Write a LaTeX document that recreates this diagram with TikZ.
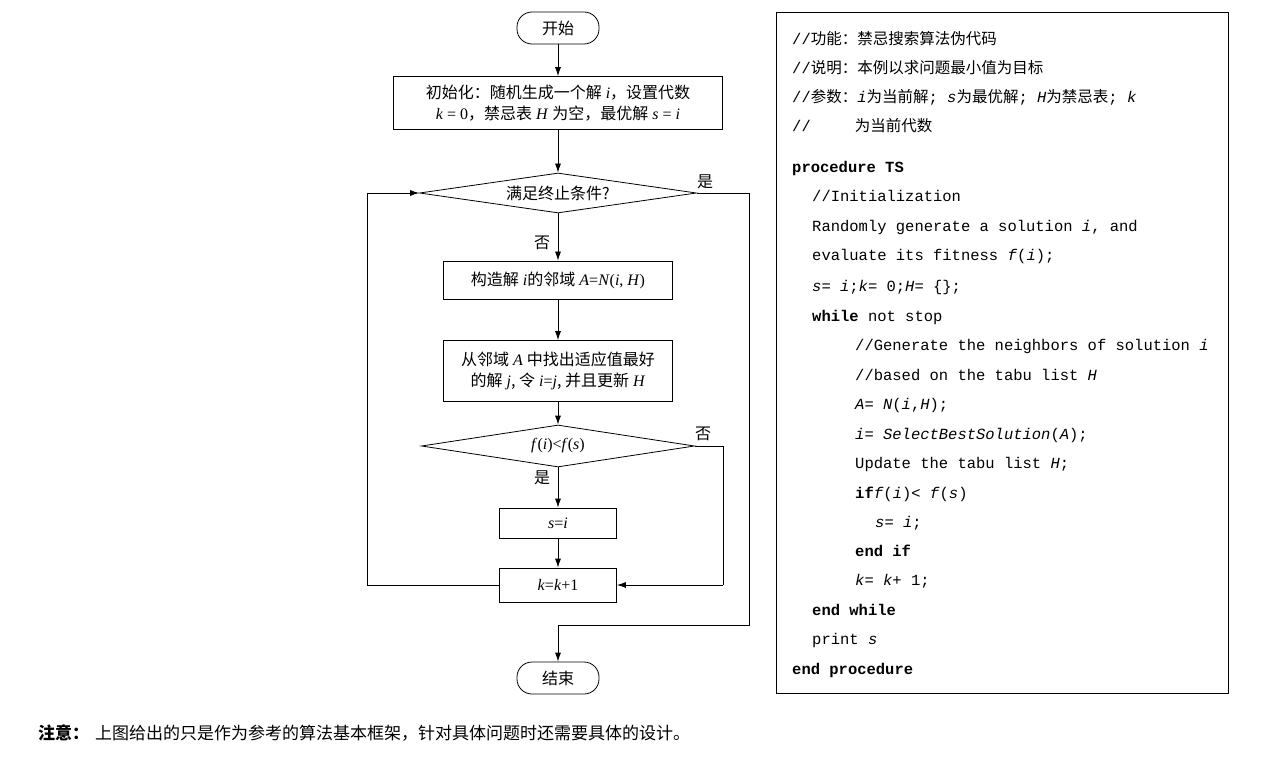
\documentclass[tikz,border=0pt]{standalone}
\usepackage{fontspec}
\setmainfont{Liberation Serif}
\setmonofont{Liberation Mono}
\newfontfamily\cjk{Noto Sans CJK SC}
\newcommand\C[1]{{\cjk #1}}
\newcommand\V[1]{\textit{#1}}
\usetikzlibrary{arrows.meta,shapes.geometric}
\begin{document}
\begin{tikzpicture}[x=1pt,y=-1pt,
  box/.style={draw,line width=0.8pt,minimum height=#1,inner sep=2pt,align=center,font=\fontsize{16}{21}\selectfont},
  box/.default=30pt,
  term/.style={draw,line width=0.8pt,rounded corners=15pt,minimum width=82pt,minimum height=32pt,font=\fontsize{16}{18}\selectfont},
  dia/.style={draw,line width=0.8pt,diamond,aspect=6.8,inner sep=1pt,font=\fontsize{16}{18}\selectfont},
  arr/.style={line width=0.8pt,-{Latex[length=9pt,width=6pt]}},
  ln/.style={line width=0.8pt},
  lab/.style={font=\fontsize{16}{18}\selectfont\cjk},
  code/.style={anchor=base west,font=\fontsize{15.5}{18}\ttfamily,inner sep=0pt}]
\useasboundingbox (0,0) rectangle (1272,762);
\node[term] (start) at (558,28) {\C{开始}};
\node[box=53pt,minimum width=329pt] (init) at (558,103) {\C{初始化：随机生成一个解} \V{i}\C{，设置代数}\\ \V{k} = 0\C{，禁忌表} \V{H} \C{为空，最优解} \V{s} = \V{i}};
\node[dia,minimum width=277pt,minimum height=40pt] (stop) at (558,193) {\C{满足终止条件?}};
\node[box=38pt,minimum width=229pt] (nb) at (558,280) {\C{构造解} \V{i}\C{的邻域} \V{A}=\V{N}(\V{i}, \V{H})};
\node[box=61pt,minimum width=229pt] (best) at (558,371) {\C{从邻域} \V{A} \C{中找出适应值最好}\\\C{的解} \V{j}\C{, 令} \V{i}=\V{j}\C{, 并且更新} \V{H}};
\node[dia,minimum width=273pt,minimum height=42pt] (cmp) at (558,446) {\V{f}(\V{i})<\V{f}(\V{s})};
\node[box=30pt,minimum width=117pt] (si) at (558,523) {\V{s}=\V{i}};
\node[box=34pt,minimum width=117pt] (kk) at (558,585) {\V{k}=\V{k}+1};
\node[term] (end) at (558,678) {\C{结束}};
\coordinate (yes) at (749,625);
\draw[arr] (start) -- (init);
\draw[arr] (init) -- (stop);
\draw[arr] (stop) -- (nb);
\draw[arr] (nb) -- (best);
\draw[arr] (best) -- (cmp);
\draw[arr] (cmp) -- (si);
\draw[arr] (si) -- (kk);
\draw[ln] (kk.west) -| (367,193);
\draw[arr] (367,193) -- (stop.west);
\draw[ln] (stop.east) -| (yes) -| (558,640);
\draw[arr] (558,625) -- (end);
\draw[ln] (cmp.east) -| (723,585);
\draw[arr] (723,585) -- (kk.east);
\node[lab] at (705,182) {是};
\node[lab] at (542,243) {否};
\node[lab] at (542,478) {是};
\node[lab] at (703,434) {否};
% code panel
\draw[line width=0.8pt] (776,12) rectangle (1228,693);
\node[code] at (792,45) {//\C{功能：禁忌搜索算法伪代码}};
\node[code] at (792,74) {//\C{说明：本例以求问题最小值为目标}};
\node[code] at (792,103) {//\C{参数：}\textit{i}\C{为当前解}; \textit{s}\C{为最优解}; \textit{H}\C{为禁忌表}; \textit{k}};
\node[code] at (792,132) {//\hspace{44pt}\C{为当前代数}};
\node[code] at (792,173) {\textbf{procedure TS}};
\node[code] at (812,202) {//Initialization};
\node[code] at (812,232) {Randomly generate a solution \textit{i}, and};
\node[code] at (812,261) {evaluate its fitness \textit{f}(\textit{i});};
\node[code] at (812,291) {\textit{s}= \textit{i};\textit{k}= 0;\textit{H}= \{\};};
\node[code] at (812,321) {\textbf{while} not stop};
\node[code] at (855,350) {//Generate the neighbors of solution \textit{i}};
\node[code] at (855,380) {//based on the tabu list \textit{H}};
\node[code] at (855,409) {\textit{A}= \textit{N}(\textit{i},\textit{H});};
\node[code] at (855,439) {\textit{i}= \textit{SelectBestSolution}(\textit{A});};
\node[code] at (855,468) {Update the tabu list \textit{H};};
\node[code] at (855,498) {\textbf{if}\textit{f}(\textit{i})< \textit{f}(\textit{s})};
\node[code] at (875,527) {\textit{s}= \textit{i};};
\node[code] at (855,556) {\textbf{end if}};
\node[code] at (855,585) {\textit{k}= \textit{k}+ 1;};
\node[code] at (812,615) {\textbf{end while}};
\node[code] at (812,644) {print \textit{s}};
\node[code] at (792,674) {\textbf{end procedure}};
\node[anchor=base west,inner sep=0pt,font=\fontsize{17}{20}\selectfont\cjk] (note) at (38,739) {\textbf{注意：}\hspace{6pt}上图给出的只是作为参考的算法基本框架，针对具体问题时还需要具体的设计。};
\end{tikzpicture}
\end{document}
